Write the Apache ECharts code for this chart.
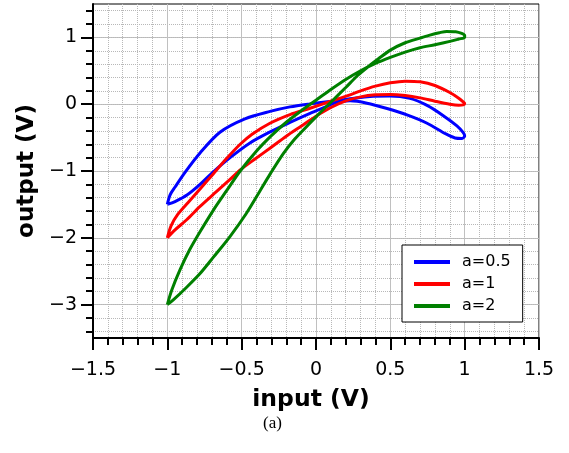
<!DOCTYPE html>
<html>
<head>
<meta charset="utf-8">
<script src="https://cdn.jsdelivr.net/npm/echarts@6/dist/echarts.min.js"></script>
<style>
html,body{margin:0;padding:0;background:#fff;}
#chart{width:569px;height:453px;}
</style>
</head>
<body>
<div id="chart"></div>
<script>
// ---- data ----
const seriesNames = ['a=0.5', 'a=1', 'a=2'];
const xTicks = [-1.5, -1, -0.5, 0, 0.5, 1, 1.5];
const yMajorTicks = [-3, -2, -1, 0, 1];
const yMinorTicks = [-3.4, -3.2, -3.0, -2.8, -2.6, -2.4, -2.2, -2.0, -1.8, -1.6, -1.4, -1.2, -1.0,
  -0.8, -0.6, -0.4, -0.2, 0.0, 0.2, 0.4, 0.6, 0.8, 1.0, 1.2, 1.4];

// a = 0.5 loop
const blueLoop = [
  [-1,-1.5],[-0.982,-1.36],[-0.948,-1.24],[-0.881,-1.02],[-0.78,-0.73],[-0.646,-0.42],
  [-0.478,-0.22],[-0.309,-0.108],[-0.175,-0.04],[-0.04,0.005],[0.094,0.042],[0.229,0.08],
  [0.363,0.117],[0.498,0.124],[0.632,0.087],[0.747,-0.018],[0.854,-0.168],[0.948,-0.325],
  [0.989,-0.423],[1.0,-0.475],
  [0.982,-0.513],[0.935,-0.505],[0.874,-0.445],[0.747,-0.285],[0.612,-0.16],[0.478,-0.065],
  [0.343,0.015],[0.229,0.05],[0.128,0.022],[0.074,-0.033],[-0.04,-0.138],[-0.175,-0.273],
  [-0.309,-0.415],[-0.444,-0.58],[-0.578,-0.80],[-0.70,-1.03],[-0.78,-1.20],[-0.868,-1.36],
  [-0.948,-1.457],[-1,-1.5]
];

// a = 1 loop
const redLoop = [
  [-1,-2],[-0.975,-1.82],[-0.93,-1.65],[-0.86,-1.47],[-0.78,-1.27],[-0.69,-1.04],[-0.60,-0.81],
  [-0.51,-0.60],[-0.43,-0.45],[-0.31,-0.285],[-0.175,-0.155],[-0.04,-0.06],[0.094,0.04],
  [0.229,0.14],[0.30,0.20],[0.40,0.27],[0.50,0.32],[0.60,0.345],[0.70,0.335],[0.80,0.28],
  [0.90,0.175],[0.96,0.09],[0.99,0.035],[1.0,0.01],
  [0.99,-0.01],[0.96,-0.015],[0.90,0.0],[0.80,0.045],[0.70,0.095],[0.60,0.13],[0.50,0.145],
  [0.40,0.14],[0.30,0.11],[0.20,0.05],[0.10,-0.05],[0.0,-0.18],[-0.10,-0.33],[-0.20,-0.48],
  [-0.31,-0.66],[-0.41,-0.82],[-0.51,-0.985],[-0.58,-1.13],[-0.67,-1.31],[-0.78,-1.53],
  [-0.87,-1.73],[-0.95,-1.885],[-1,-2]
];

// a = 2 loop
const greenLoop = [
  [-1,-3],[-0.97,-2.78],[-0.915,-2.48],[-0.85,-2.18],[-0.78,-1.91],[-0.69,-1.585],[-0.60,-1.29],
  [-0.51,-1.0],[-0.40,-0.70],[-0.30,-0.47],[-0.20,-0.27],[-0.10,-0.10],[0.0,0.06],[0.10,0.22],
  [0.20,0.37],[0.30,0.50],[0.40,0.61],[0.50,0.70],[0.60,0.78],[0.70,0.845],[0.80,0.89],
  [0.90,0.94],[0.96,0.975],[1.0,1.0],
  [1.0,1.03],[0.98,1.06],[0.94,1.085],[0.88,1.09],[0.83,1.07],[0.76,1.03],[0.70,0.99],
  [0.60,0.92],[0.50,0.81],[0.42,0.68],[0.35,0.56],[0.28,0.43],[0.20,0.25],[0.10,0.03],
  [0.0,-0.19],[-0.085,-0.385],[-0.15,-0.54],[-0.22,-0.74],[-0.31,-1.05],[-0.38,-1.31],
  [-0.47,-1.64],[-0.58,-1.985],[-0.69,-2.29],[-0.78,-2.535],[-0.87,-2.74],[-0.96,-2.93],[-1,-3]
];

const colors = ['#0000ff', '#ff0000', '#008000'];
const loops = [blueLoop, redLoop, greenLoop];

// ---- chart ----
const FONT = 'DejaVu Sans';
const minus = v => String(v).replace('-', '\u2212');

const chart = echarts.init(document.getElementById('chart'), null, {renderer: 'canvas'});
const option = {
  animation: false,
  backgroundColor: '#fff',
  grid: {
    left: 93, right: 30, top: 4, bottom: 115,
    show: true, borderColor: '#000', borderWidth: 1, backgroundColor: '#fff'
  },
  xAxis: {
    type: 'value', min: xTicks[0], max: xTicks[xTicks.length - 1], interval: 0.5,
    name: 'input (V)', nameLocation: 'middle', nameGap: 50,
    nameTextStyle: {fontFamily: FONT, fontSize: 23.5, fontWeight: 'bold', color: '#000', padding: [0, 10, 0, 0]},
    axisLine: {show: true, onZero: false, lineStyle: {color: '#000', width: 2}},
    axisTick: {show: true, length: 12, lineStyle: {color: '#000', width: 2}},
    minorTick: {show: true, splitNumber: 5, length: 7, lineStyle: {color: '#000', width: 2}},
    axisLabel: {margin: 23, fontFamily: FONT, fontSize: 19, color: '#000', formatter: minus},
    splitLine: {show: true, lineStyle: {color: '#c0c0c0', width: 1, type: 'solid'}},
    minorSplitLine: {show: true, lineStyle: {color: '#b8b8b8', width: 1, type: 'dotted'}}
  },
  yAxis: [{
    type: 'value', min: -3.5, max: 1.5, interval: 0.5, position: 'left',
    name: 'output (V)', nameLocation: 'middle', nameGap: 53, nameRotate: 90,
    nameTextStyle: {fontFamily: FONT, fontSize: 23, fontWeight: 'bold', color: '#000'},
    axisLine: {show: true, onZero: false, lineStyle: {color: '#000', width: 2}},
    axisTick: {show: true, length: 12, customValues: yMajorTicks, lineStyle: {color: '#000', width: 2}},
    axisLabel: {margin: 16, customValues: yMajorTicks, fontFamily: FONT, fontSize: 19, color: '#000', formatter: minus},
    splitLine: {show: true, lineStyle: {color: '#c0c0c0', width: 1, type: 'solid'}}
  }, {
    type: 'value', min: -3.5, max: 1.5, interval: 0.5, position: 'left',
    axisLine: {show: false, onZero: false},
    axisTick: {show: true, length: 7, customValues: yMinorTicks, lineStyle: {color: '#000', width: 2}},
    axisLabel: {show: false},
    splitLine: {show: true, lineStyle: {color: '#b8b8b8', width: 1, type: 'dotted'}}
  }],
  legend: {
    orient: 'vertical', left: 402, top: 245,
    padding: [9, 12, 8, 12], itemGap: 6, itemWidth: 36, itemHeight: 4,
    backgroundColor: '#fff', borderColor: '#000', borderWidth: 1, borderRadius: 0,
    icon: 'rect',
    textStyle: {fontFamily: FONT, fontSize: 16, color: '#000', padding: [0, 0, 0, 7]},
    data: seriesNames
  },
  graphic: [{
    type: 'text', left: 263, top: 415,
    style: {text: '(a)', font: '17px "Liberation Serif"', fill: '#000'}
  }],
  series: loops.map((d, i) => ({
    name: seriesNames[i], type: 'line', data: d, yAxisIndex: 0,
    showSymbol: false, smooth: 0.3, z: 3 + i,
    lineStyle: {color: colors[i], width: 3},
    itemStyle: {color: colors[i]}
  }))
};
chart.setOption(option);
</script>
</body>
</html>
